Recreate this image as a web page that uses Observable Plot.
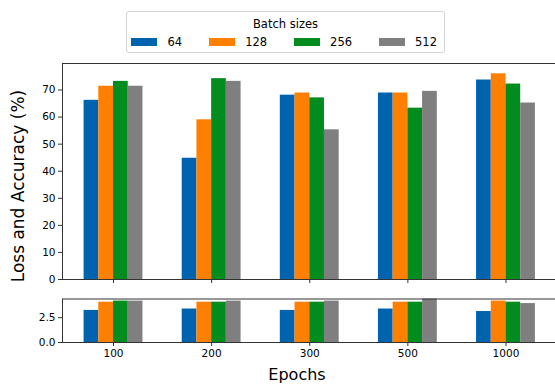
<!DOCTYPE html>
<html><head><meta charset="utf-8">
<script src="https://cdn.jsdelivr.net/npm/d3@7"></script>
<script src="https://cdn.jsdelivr.net/npm/@observablehq/plot@0.6"></script>
<style>
html,body{margin:0;padding:0;background:#fff;}
#fig{position:relative;width:555px;height:384px;overflow:hidden;font-family:"DejaVu Sans",sans-serif;color:#000;}
#fig svg{position:absolute;left:0;max-width:none !important;}
#legend{position:absolute;left:126px;top:11px;width:317px;height:40px;border:1px solid #d4d4d4;border-radius:3px;background:#fff;box-sizing:content-box;}
#legend .title{position:absolute;left:0;right:0;top:5px;text-align:center;font-size:11.5px;line-height:14px;}
#legend .row{position:absolute;left:4px;top:23px;display:flex;align-items:center;font-size:11.5px;line-height:14px;}
#legend .sw{width:26px;height:8px;margin-right:10.5px;}
#legend .item{display:flex;align-items:center;margin-right:26.5px;}
#legend .item:last-child{margin-right:0;}
#ylabel{position:absolute;left:18px;top:186px;transform:translate(-50%,-50%) rotate(-90deg);font-size:17px;white-space:nowrap;}
#xlabel{position:absolute;left:297px;top:374px;transform:translate(-50%,-50%);font-size:16px;white-space:nowrap;}
</style></head><body><div id="fig"></div>
<script>
const epochs = ["100", "200", "300", "500", "1000"];
const batchSizes = ["64", "128", "256", "512"];
const colors = ["#0063b0", "#ff7f00", "#008c1e", "#7f7f7f"];

// upper panel (accuracy, %)
const acc64  = [66.2, 44.8, 68.1, 68.9, 73.7];
const acc128 = [71.4, 59.0, 68.9, 68.9, 76.0];
const acc256 = [73.2, 74.2, 67.1, 63.3, 72.2];
const acc512 = [71.4, 73.2, 55.3, 69.5, 65.2];

// lower panel (loss)
const loss64  = [3.23, 3.37, 3.23, 3.37, 3.12];
const loss128 = [4.06, 4.06, 4.06, 4.06, 4.17];
const loss256 = [4.17, 4.06, 4.06, 4.06, 4.06];
const loss512 = [4.17, 4.17, 4.17, 4.60, 3.92];

const upperTicks = [0, 10, 20, 30, 40, 50, 60, 70];
const lowerTicks = [0, 2.5];

const barWidth = 0.15;
function tidy(series) {
  const out = [];
  series.forEach((vals, j) => vals.forEach((v, i) => out.push({i, j, epoch: epochs[i], batch: batchSizes[j], value: v})));
  return out;
}
const accData = tidy([acc64, acc128, acc256, acc512]);
const lossData = tidy([loss64, loss128, loss256, loss512]);

const x1 = d => d.i + (d.j - 1.5) * barWidth - barWidth / 2;
const x2 = d => d.i + (d.j - 1.5) * barWidth + barWidth / 2;

const common = {
  width: 558, marginLeft: 62, marginRight: 1.5,
  style: {fontFamily: "DejaVu Sans, sans-serif", fontSize: "10.5px", color: "#000", background: "transparent", overflow: "visible", maxWidth: "none"},
  x: {domain: [-0.52, 4.52], axis: null},
  color: {domain: batchSizes, range: colors}
};

const upper = Plot.plot({
  ...common,
  height: 290, marginTop: 63, marginBottom: 11,
  y: {domain: [0, 79.8], axis: null},
  marks: [
    Plot.rectY(accData, {x1, x2, y: "value", fill: "batch"}),
    Plot.axisY({ticks: upperTicks, tickSize: 4, tickPadding: 3, tickFormat: d3.format("d"), label: null, stroke: "#333"}),
    Plot.axisX({ticks: d3.range(epochs.length), tickSize: 4, tickFormat: () => "", label: null, stroke: "#333"}),
    Plot.frame({stroke: "#333"})
  ]
});

const lower = Plot.plot({
  ...common,
  height: 94, marginTop: 8.5, marginBottom: 42,
  y: {domain: [0, 4.38], axis: null},
  marks: [
    Plot.rectY(lossData, {x1, x2, y: "value", fill: "batch", clip: true}),
    Plot.axisY({ticks: lowerTicks, tickSize: 4, tickPadding: 3, tickFormat: d3.format(".1f"), label: null, stroke: "#333"}),
    Plot.axisX({ticks: d3.range(epochs.length), tickSize: 4, tickPadding: 3, tickFormat: i => epochs[i], label: null, stroke: "#333"}),
    Plot.frame({stroke: "#333"})
  ]
});

const fig = document.getElementById("fig");
upper.style.top = "0px";
lower.style.top = "290px";
fig.appendChild(upper);
fig.appendChild(lower);

// legend
const legend = document.createElement("div");
legend.id = "legend";
const title = document.createElement("div");
title.className = "title";
title.textContent = "Batch sizes";
legend.appendChild(title);
const row = document.createElement("div");
row.className = "row";
batchSizes.forEach((b, j) => {
  const item = document.createElement("div");
  item.className = "item";
  const sw = document.createElement("div");
  sw.className = "sw";
  sw.style.background = colors[j];
  const lab = document.createElement("span");
  lab.textContent = b;
  item.appendChild(sw);
  item.appendChild(lab);
  row.appendChild(item);
});
legend.appendChild(row);
fig.appendChild(legend);

const yl = document.createElement("div");
yl.id = "ylabel";
yl.textContent = "Loss and Accuracy (%)";
fig.appendChild(yl);

const xl = document.createElement("div");
xl.id = "xlabel";
xl.textContent = "Epochs";
fig.appendChild(xl);
</script></body></html>
